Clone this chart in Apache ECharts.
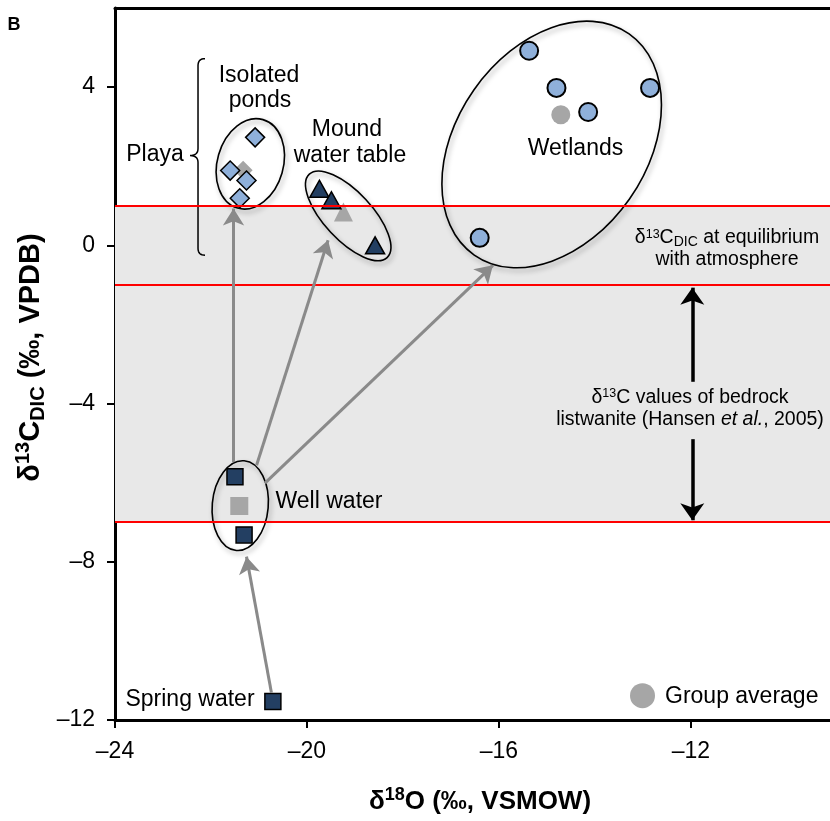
<!DOCTYPE html>
<html><head><meta charset="utf-8">
<script src="https://cdn.jsdelivr.net/npm/echarts@6/dist/echarts.min.js"></script>
<style>html,body{margin:0;padding:0;background:#fff}#c{width:830px;height:821px}</style>
</head><body><div id="c"></div>
<script>
const FONT = "'Liberation Sans', Arial, Helvetica, sans-serif";

// ---- data ----
const pondsX = [-21.08, -21.60, -21.26, -21.40];
const pondsY = [2.73, 1.89, 1.64, 1.19];
const moundX = [-19.74, -19.49, -18.58];
const moundY = [1.43, 1.14, 0.00];
const wetX = [-15.37, -14.80, -12.85, -14.14, -16.40];
const wetY = [4.92, 3.98, 3.98, 3.37, 0.19];
const wellX = [-21.50, -21.31];
const wellY = [-5.85, -7.32];
const springX = [-20.71];
const springY = [-11.53];
const avgX = [-21.33, -19.24, -14.71, -21.41];
const avgY = [1.90, 0.84, 3.30, -6.59];
const avgSymbol = ['diamond', 'triangle', 'circle', 'rect'];

const xTicks = [-24, -20, -16, -12];
const yTicks = [-12, -8, -4, 0, 4];
const redLinesY = [1, -1, -7];
const bandY = [1, -7];

// arrows (data coords)
const grayArrowFrom = [[-21.53, -5.48], [-21.05, -5.56], [-20.875, -6.01], [-20.74, -11.31]];
const grayArrowTo   = [[-21.53, 0.93], [-19.56, 0.13], [-16.125, -0.505], [-21.26, -7.87]];
const blackArrowFrom = [[-11.97, -3.45], [-11.97, -4.90]];
const blackArrowTo   = [[-11.97, -1.07], [-11.97, -6.95]];

// group ellipses: centres in data coords
const ellipseCX = [-21.18, -19.14, -14.90, -21.39];
const ellipseCY = [2.06, 0.745, 2.55, -6.58];
// brace (data coords)
const braceX = -22.27, braceTop = 4.72, braceMid = 2.27, braceBot = -0.25;

// ---- styling / layout ----
const ellipseGeom = [ {rx:33, ry:46, tilt:16}, {rx:57, ry:24, tilt:47}, {rx:95, ry:135, tilt:35}, {rx:28, ry:45, tilt:5} ];
const LIGHT = '#8fb0da', DARK = '#233f62', AVG = '#a6a6a6';

const pts = (xs, ys) => xs.map((x, i) => [x, ys[i]]);
const toMinus = v => v < 0 ? '\u2013' + Math.abs(v) : String(v);

const chart = echarts.init(document.getElementById('c'));
const markerStyle = (c, w) => ({ color: c, borderColor: '#000', borderWidth: w || 1.5, opacity: 1 });

chart.setOption({
  animation: false,
  backgroundColor: '#fff',
  grid: { left: 115, right: 0, top: 8, bottom: 101 },
  xAxis: [{
    type: 'value', min: -24, max: -9.1, position: 'bottom',
    axisLine: { onZero: false, lineStyle: { color: '#000', width: 3 } },
    axisTick: { show: true, customValues: xTicks, length: 8, lineStyle: { color: '#000', width: 2 } },
    axisLabel: { customValues: xTicks, formatter: toMinus, margin: 20, color: '#000', fontSize: 23, fontFamily: FONT },
    splitLine: { show: false }
  }, {
    type: 'value', min: -24, max: -9.1, position: 'top',
    axisLine: { onZero: false, lineStyle: { color: '#000', width: 3 } },
    axisTick: { show: false }, axisLabel: { show: false }, splitLine: { show: false }
  }],
  yAxis: {
    type: 'value', min: -12, max: 6,
    axisLine: { show: true, onZero: false, lineStyle: { color: '#000', width: 3 } },
    axisTick: { show: true, customValues: yTicks, length: 8, lineStyle: { color: '#000', width: 2 } },
    axisLabel: { customValues: yTicks, formatter: toMinus, margin: 20, color: '#000', fontSize: 23, fontFamily: FONT },
    splitLine: { show: false }
  },
  series: [
    { type: 'scatter', name: 'band', data: [], z: 0, silent: true,
      markArea: { silent: true, itemStyle: { color: '#e8e8e8', opacity: 1 }, data: [[{ yAxis: bandY[0] }, { yAxis: bandY[1] }]] },
      markLine: { silent: true, symbol: ['none', 'none'], label: { show: false },
        lineStyle: { color: '#ff0000', width: 2, type: 'solid', opacity: 1 }, data: redLinesY.map(y => ({ yAxis: y })) } },
    { type: 'scatter', name: 'arrows', data: [], z: 1, silent: true,
      markLine: { silent: true, symbol: ['none', 'arrow'], symbolSize: [16, 17], label: { show: false },
        lineStyle: { color: '#8a8a8a', width: 3, type: 'solid', opacity: 1 },
        data: grayArrowFrom.map((p, i) => [{ coord: p }, { coord: grayArrowTo[i] }]) } },
    { type: 'scatter', name: 'arrows2', data: [], z: 1, silent: true,
      markLine: { silent: true, symbol: ['none', 'arrow'], symbolSize: [18, 17], label: { show: false },
        lineStyle: { color: '#000', width: 3.5, type: 'solid', opacity: 1 },
        data: blackArrowFrom.map((p, i) => [{ coord: p }, { coord: blackArrowTo[i] }]) } },
    { type: 'scatter', name: 'Group average', z: 3, symbolSize: 19, itemStyle: { color: AVG, opacity: 1 },
      data: avgX.map((x, i) => ({ value: [x, avgY[i]], symbol: avgSymbol[i], symbolSize: avgSymbol[i] === 'rect' ? 18 : 19 })) },
    { type: 'scatter', name: 'Isolated ponds', z: 4, symbol: 'diamond', symbolSize: 19, itemStyle: markerStyle(LIGHT), data: pts(pondsX, pondsY) },
    { type: 'scatter', name: 'Mound water table', z: 4, symbol: 'triangle', symbolSize: [19, 17], itemStyle: markerStyle(DARK), data: pts(moundX, moundY) },
    { type: 'scatter', name: 'Wetlands', z: 4, symbol: 'circle', symbolSize: 18, itemStyle: markerStyle(LIGHT, 2), data: pts(wetX, wetY) },
    { type: 'scatter', name: 'Well water', z: 4, symbol: 'rect', symbolSize: 16, itemStyle: markerStyle(DARK), data: pts(wellX, wellY) },
    { type: 'scatter', name: 'Spring water', z: 4, symbol: 'rect', symbolSize: 16, itemStyle: markerStyle(DARK), data: pts(springX, springY) }
  ]
});

const P = (x, y) => chart.convertToPixel({ xAxisIndex: 0, yAxisIndex: 0 }, [x, y]);

const graphics = [];
ellipseCX.forEach((cx, i) => {
  const c = P(cx, ellipseCY[i]);
  const g = ellipseGeom[i];
  graphics.push({ type: 'ellipse', x: c[0], y: c[1], rotation: -g.tilt * Math.PI / 180, z: 2,
    shape: { cx: 0, cy: 0, rx: g.rx, ry: g.ry },
    style: { fill: 'none', stroke: '#000', lineWidth: 1.6, shadowBlur: 5, shadowColor: 'rgba(0,0,0,0.35)', shadowOffsetX: 2, shadowOffsetY: 3 } });
});

// brace
(function () {
  const t = P(braceX, braceTop), m = P(braceX, braceMid), b = P(braceX, braceBot);
  const x0 = t[0], yt = t[1], ym = m[1], yb = b[1];
  const q = (p0, p1, p2, n) => { const r = []; for (let k = 1; k <= n; k++) { const s = k / n; r.push([(1-s)*(1-s)*p0[0] + 2*(1-s)*s*p1[0] + s*s*p2[0], (1-s)*(1-s)*p0[1] + 2*(1-s)*s*p1[1] + s*s*p2[1]]); } return r; };
  let path = [[x0 + 7, yt]];
  path = path.concat(q([x0 + 7, yt], [x0, yt], [x0, yt + 7], 8));
  path.push([x0, ym - 7]);
  path = path.concat(q([x0, ym - 7], [x0, ym], [x0 - 8, ym], 8));
  path = path.concat(q([x0 - 8, ym], [x0, ym], [x0, ym + 7], 8));
  path.push([x0, yb - 7]);
  path = path.concat(q([x0, yb - 7], [x0, yb], [x0 + 7, yb], 8));
  graphics.push({ type: 'polyline', z: 3, shape: { points: path }, style: { fill: 'none', stroke: '#000', lineWidth: 1.5 } });
})();

const txt = (text, x, y, size) => ({ type: 'text', x: x, y: y, z: 5,
  style: { text: text, fill: '#000', fontSize: size, fontFamily: FONT, align: 'center', verticalAlign: 'middle' } });

graphics.push({ type: 'text', x: 14, y: 25, z: 5, style: { text: 'B', fill: '#000', fontSize: 18, fontWeight: 'bold', fontFamily: FONT, align: 'center', verticalAlign: 'middle' } });
graphics.push(txt('Isolated', 259, 75.5, 23));
graphics.push(txt('ponds', 260, 100.5, 23));
graphics.push(txt('Playa', 155, 154.5, 23));
graphics.push(txt('Mound', 347, 129.5, 23));
graphics.push(txt('water table', 350, 155.5, 23));
graphics.push(txt('Wetlands', 575.5, 148.5, 23));
graphics.push(txt('Well water', 329, 501.5, 23));
graphics.push(txt('Spring water', 190, 700, 23));

// legend
graphics.push({ type: 'circle', z: 5, shape: { cx: 642.5, cy: 695.7, r: 12.5 }, style: { fill: AVG } });
graphics.push({ type: 'text', x: 665, y: 696.5, z: 5, style: { text: 'Group average', fill: '#000', fontSize: 23, fontFamily: FONT, align: 'left', verticalAlign: 'middle' } });

const richSmall = {
  n: { fontSize: 19.5, fontFamily: FONT, fill: '#000', lineHeight: 22 },
  i: { fontSize: 19.5, fontFamily: FONT, fill: '#000', lineHeight: 22, fontStyle: 'italic' },
  sup: { fontSize: 12.5, fontFamily: FONT, fill: '#000', lineHeight: 22, verticalAlign: 'top', padding: [1, 0, 0, 0] },
  sub: { fontSize: 14, fontFamily: FONT, fill: '#000', lineHeight: 22, verticalAlign: 'bottom', padding: [0, 0, 0, 0] }
};
graphics.push({ type: 'text', x: 727, y: 249, z: 5, style: { text: '{n|δ}{sup|13}{n|C}{sub|DIC}{n| at equilibrium}\n{n|with atmosphere}', rich: richSmall, align: 'center', verticalAlign: 'middle' } });
graphics.push({ type: 'text', x: 690, y: 408.5, z: 5, style: { text: '{n|δ}{sup|13}{n|C values of bedrock}\n{n|listwanite (Hansen }{i|et al.}{n|, 2005)}', rich: richSmall, align: 'center', verticalAlign: 'middle' } });

// axis titles
const richBig = s => ({
  b: { fontSize: s, fontWeight: 'bold', fontFamily: FONT, fill: '#000', lineHeight: s + 6 },
  sup: { fontSize: Math.round(s * 0.68), fontWeight: 'bold', fontFamily: FONT, fill: '#000', lineHeight: s + 6, verticalAlign: 'top' },
  sub: { fontSize: Math.round(s * 0.68), fontWeight: 'bold', fontFamily: FONT, fill: '#000', lineHeight: s + 6, verticalAlign: 'bottom' }
});
graphics.push({ type: 'text', x: 480, y: 802, z: 5, style: { text: '{b|δ}{sup|18}{b|O (‰, VSMOW)}', rich: richBig(26), align: 'center', verticalAlign: 'middle' } });
graphics.push({ type: 'text', x: 31, y: 357.5, z: 5, rotation: Math.PI / 2, style: { text: '{b|δ}{sup|13}{b|C}{sub|DIC}{b| (‰, VPDB)}', rich: richBig(29), align: 'center', verticalAlign: 'middle' } });

chart.setOption({ graphic: graphics });
</script></body></html>
